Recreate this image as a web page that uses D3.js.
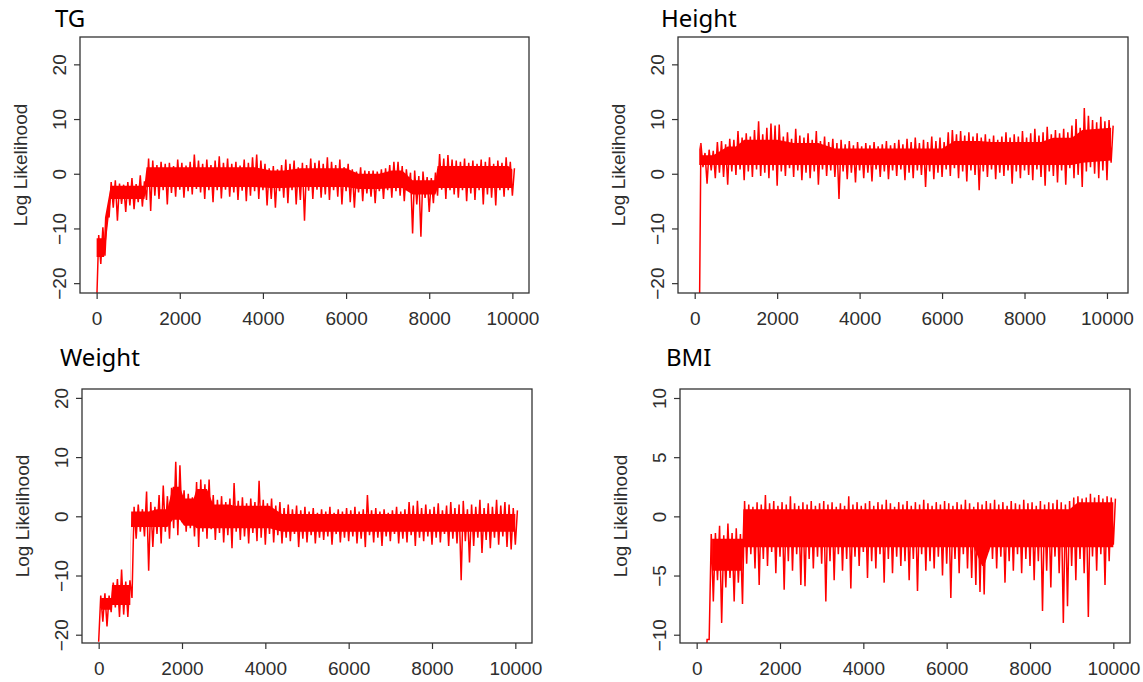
<!DOCTYPE html>
<html>
<head>
<meta charset="utf-8"/>
<script src="https://d3js.org/d3.v7.min.js"></script>
<style>
	body { margin: 0; background: #fff; }
	.tick text { font-family: "Liberation Sans", Arial, sans-serif; font-size: 19px; fill: #2e2e2e; }
	.tick line { stroke: #333; stroke-width: 1.2; }
	.ylab { font-family: "Liberation Sans", Arial, sans-serif; font-size: 19px; fill: #2e2e2e; }
	.title { font-family: "Noto Sans", sans-serif; font-size: 24px; fill: #000; }
	.box { fill: none; stroke: #333; stroke-width: 1.3; }
	.trace { fill: none; stroke: #ff0000; stroke-width: 1.5; }
	.core { fill: #ff0000; stroke: none; }
</style>
</head>
<body>
<svg id="chart" width="1143" height="682"></svg>
<script>
// extremes: one lo and one hi value per 100 iterations (lo at i*100, hi at i*100+50)
var step = 100;
var titles = ["TG", "Height", "Weight", "BMI"];
var xTicks = [0, 2000, 4000, 6000, 8000, 10000];
var yTicksWide = [-20, -10, 0, 10, 20];
var yTicksBmi = [-10, -5, 0, 5, 10];

var tgLo = [-24,-16.5,-15,-8,-6.2,-8.6,-5.5,-7.0,-5.8,-6.5,-5.2,-6.0,
	-4.8,-6.8,-4.0,-4.6,-3.0,-5.6,-3.5,-4.2,-2.9,-4.4,
	-3.2,-3.8,-2.8,-3.4,-4.6,-3.0,-5.2,-3.0,-4.5,-2.9,
	-4.2,-3.4,-4.8,-3.1,-5.0,-4.0,-3.2,-4.6,-3.0,-5.8,
	-4.6,-6.2,-3.2,-4.4,-5.4,-3.0,-5.6,-4.8,-8.6,-3.1,
	-4.6,-2.9,-4.4,-3.8,-4.8,-3.0,-4.2,-5.6,-3.2,-5.2,
	-6.2,-3.4,-5.0,-3.6,-4.2,-5.4,-3.2,-4.6,-3.0,-4.4,
	-3.2,-4.0,-5.0,-3.0,-10.9,-5.6,-11.5,-4.4,-7.0,-5.4,
	-4.0,-2.9,-4.6,-3.0,-3.8,-4.4,-3.0,-5.0,-3.6,-4.8,
	-3.0,-5.6,-3.8,-4.4,-5.8,-3.0,-4.2,-3.0,-4.0];
var tgHi = [-11.2,-9.8,-7,-1.5,-1.2,-1.8,-2.0,-1.5,-0.8,-1.9,-0.3,-1.4,
	2.8,2.4,1.6,2.2,1.8,2.0,1.4,2.6,2.0,1.5,
	2.2,3.5,2.4,1.8,2.6,1.6,2.4,3.2,2.0,2.8,
	1.8,2.2,1.5,2.6,2.0,3.0,3.5,2.4,1.8,1.0,
	1.4,0.8,1.6,2.6,1.8,2.4,1.2,2.0,1.6,2.8,
	2.0,2.4,1.8,3.0,2.2,1.6,2.6,1.2,1.8,0.8,
	0.4,1.2,0.6,0.5,0.6,0.4,0.8,1.0,1.6,2.2,
	2.2,1.4,0.8,0.2,0.6,-0.4,0.4,-0.6,-0.8,0.2,
	3.6,2.8,3.4,2.6,2.4,2.2,2.8,2.0,2.4,1.8,
	2.6,2.2,3.0,1.8,2.4,2.0,3.0,2.2,1.0];

var heightLo = [-40,-40,1.2,-1.8,0.6,-0.8,0.2,-0.6,-2.0,0.4,-0.2,0.8,
	-1.2,0.4,-0.6,0.8,-0.4,0.2,-0.8,0.6,-2.2,0.4,
	-0.4,1.0,-0.6,0.6,-1.2,0.2,-0.8,0.4,-2.0,0.8,
	-0.4,0.6,-0.6,-4.6,0.4,-1.0,0.2,-1.6,0.6,-0.8,
	0.2,-1.4,0.8,-0.6,0.4,-1.0,0.6,-0.4,0.8,-1.2,
	0.2,-0.8,0.6,-0.2,-2.4,0.4,-1.0,0.2,-0.6,0.8,
	-0.4,1.0,-0.8,0.4,-1.4,0.6,-0.2,-3.0,0.4,-0.6,
	0.8,-1.0,0.2,-0.4,0.6,-1.8,0.4,-0.8,0.6,-0.2,
	-1.2,0.8,-0.6,-2.2,0.4,-0.4,-1.6,0.6,-2.0,1.0,
	-0.8,-0.2,-2.4,0.4,1.2,0.0,-0.8,0.6,-1.2,2.0];
var heightHi = [-40,5.6,3.8,4.4,4.2,5.8,6.0,5.4,6.4,6.2,7.8,6.6,
	7.4,6.8,8.0,9.6,7.2,8.4,9.2,8.8,9.0,6.8,
	7.6,6.4,8.2,7.0,6.6,7.4,6.2,7.8,6.0,6.8,
	5.8,6.4,5.6,6.2,5.4,6.0,5.2,5.8,5.0,5.6,
	5.2,5.8,5.0,5.4,6.0,5.2,5.6,6.2,5.4,6.4,
	5.8,6.6,5.6,6.2,5.8,6.8,6.0,6.6,5.8,7.6,
	8.0,7.2,7.8,7.0,7.6,6.8,7.4,6.6,7.2,6.4,
	7.0,6.2,6.8,7.6,6.6,7.2,6.8,7.8,6.6,7.4,
	8.2,7.0,7.6,8.6,7.2,8.0,7.4,8.2,7.6,8.8,
	10.0,8.4,12.0,10.6,9.8,9.4,10.4,9.6,9.8,8.8];

var weightLo = [-21.2,-17.8,-18.6,-16.2,-15.4,-17.0,-16.6,-17.0,-13.8,-3.8,-2.6,-3.4,
	-9.2,-5.2,-3.0,-4.6,-2.6,-3.8,-2.0,-3.2,-1.0,-2.6,
	-2.0,-3.4,-5.2,-2.6,-3.8,-2.2,-4.0,-2.8,-4.4,-3.2,
	-5.4,-2.6,-4.0,-3.4,-4.6,-2.8,-4.2,-3.6,-4.8,-3.0,
	-4.4,-3.2,-4.6,-3.6,-4.2,-3.0,-5.2,-3.8,-4.4,-3.2,
	-4.6,-3.6,-4.0,-3.4,-4.8,-3.0,-4.4,-3.6,-4.2,-3.4,
	-4.6,-3.8,-5.2,-3.2,-4.4,-3.6,-5.0,-3.4,-4.2,-3.0,
	-4.6,-3.8,-4.4,-3.2,-5.0,-3.6,-4.2,-3.4,-4.8,-3.6,
	-4.4,-3.0,-5.0,-3.8,-4.6,-10.8,-4.2,-7.8,-5.0,-3.6,
	-6.2,-4.0,-5.4,-3.6,-4.8,-3.4,-5.2,-5.6,-4.8];
var weightHi = [-13.4,-13.0,-13.4,-11.2,-10.6,-9.0,-11.0,-10.8,1.6,2.0,1.2,4.2,
	2.4,1.6,3.6,5.2,3.4,4.8,9.2,8.6,4.4,3.8,
	3.2,5.8,6.2,5.4,6.2,3.6,2.8,3.4,2.4,3.0,
	5.6,2.6,3.2,2.2,3.0,2.4,6.0,2.8,2.2,3.0,
	1.8,2.4,1.4,2.0,1.2,1.8,1.0,1.6,0.8,1.4,
	0.6,1.2,0.8,1.6,0.6,1.2,0.8,1.4,1.0,1.6,
	0.8,1.2,3.6,1.0,1.4,0.8,1.2,0.6,1.0,1.6,
	0.8,1.2,2.4,1.8,2.6,1.4,2.0,1.2,1.6,2.2,
	1.0,1.8,2.4,1.4,2.0,2.6,1.2,2.0,1.6,2.8,
	1.4,2.2,1.6,2.8,1.8,2.4,2.0,1.4,1.0];

var bmiLo = [-15,-15,-15,-10.4,-7.2,-5.4,-9.0,-6.0,-5.2,-7.2,-5.6,-7.4,
	-4.0,-3.2,-4.4,-5.8,-3.6,-4.2,-3.0,-4.8,-3.4,-6.2,
	-3.8,-4.6,-3.2,-5.8,-5.9,-3.6,-4.4,-3.4,-4.0,-7.2,
	-3.8,-5.4,-3.2,-4.6,-3.6,-6.1,-3.4,-4.2,-3.0,-5.2,
	-3.8,-4.4,-3.2,-5.6,-3.6,-4.8,-3.4,-4.2,-3.8,-5.4,
	-3.6,-6.3,-3.2,-4.6,-3.8,-4.4,-3.4,-5.0,-4.0,-6.9,
	-3.6,-4.8,-3.2,-4.4,-5.2,-5.8,-6.4,-6.6,-3.0,-3.6,
	-4.4,-3.4,-5.6,-3.8,-4.6,-3.2,-4.8,-3.6,-4.2,-5.4,
	-3.8,-8.0,-4.6,-6.0,-3.4,-4.8,-9.0,-7.6,-4.2,-5.4,
	-3.6,-4.8,-8.5,-3.4,-4.6,-3.2,-5.8,-3.8,-2.4];
var bmiHi = [-15,-15,-10.4,-1.5,-1.4,-0.8,-1.6,-0.6,-1.4,-1.0,-1.5,1.3,
	1.0,0.8,1.2,1.0,1.8,1.1,1.3,0.9,1.2,1.0,
	1.7,1.1,0.9,1.2,1.0,1.3,0.9,1.1,1.3,1.0,
	1.2,0.8,1.1,0.9,1.7,1.0,1.2,0.9,1.1,1.3,
	0.9,1.2,1.0,1.4,1.1,0.8,1.2,1.0,1.3,0.9,
	1.2,1.0,1.4,1.1,0.9,1.2,1.0,1.3,1.1,0.9,
	1.2,1.0,1.4,1.1,0.8,1.2,1.0,1.3,1.1,1.4,
	1.0,1.2,0.9,1.3,1.1,1.0,1.4,1.1,1.2,0.9,
	1.3,1.0,1.2,1.1,1.4,1.2,1.0,1.3,1.6,1.7,
	1.5,1.6,1.9,1.6,1.8,1.5,1.7,1.6,1.5];

// dense core band of each trace: iteration, top, bottom
var tgCoreIter = [0,180,200,340,1150,1200,3800,4200,4500,4900,6000,6300,6800,7100,7350,7600,8150,8200,9900,10000];
var tgCoreTop  = [-11.8,-11.8,-8,-2.2,-2.2,1.2,1.2,0.6,0.6,1.0,1.0,0.0,0.0,0.6,0.6,-1.2,-1.2,1.4,1.4,0.8];
var tgCoreBot  = [-15.2,-15.2,-14,-4.6,-4.6,-2.4,-2.4,-2.6,-2.6,-2.4,-2.4,-2.8,-2.8,-2.6,-2.6,-3.8,-3.8,-2.6,-2.6,-2.6];

var heightCoreIter = [110,150,450,800,1000,1200,2000,2400,3000,3400,6000,6300,6900,7200,8400,8700,9150,9400,10100];
var heightCoreTop  = [5.4,3.4,3.4,5.0,5.0,6.2,6.2,5.6,5.6,4.6,4.6,6.0,6.0,5.8,5.8,6.6,6.6,8.0,8.4];
var heightCoreBot  = [1.6,1.6,1.6,1.6,1.6,1.6,1.6,1.6,1.6,1.6,1.6,1.6,1.6,1.6,1.6,1.6,1.6,2.0,2.4];

var weightCoreIter = [60,300,320,760,780,1200,1400,1650,1780,1950,2050,2280,2350,2600,2750,3150,3250,4100,4400,10000];
var weightCoreTop  = [-13.8,-13.8,-11.6,-11.6,0.8,0.8,1.2,1.2,5.0,5.0,3.0,3.0,4.6,4.6,2.0,2.0,1.8,1.8,0.4,0.4];
var weightCoreBot  = [-15.8,-15.8,-15.0,-15.0,-1.8,-1.8,-1.8,-1.8,-0.6,-0.6,-1.6,-1.6,-2.0,-2.0,-2.0,-2.0,-2.0,-2.0,-2.6,-2.6];

var bmiCoreIter = [370,1100,1120,6650,6850,6900,7050,8950,9150,10000];
var bmiCoreTop  = [-1.9,-1.9,0.6,0.6,0.6,0.6,0.6,0.6,1.2,1.2];
var bmiCoreBot  = [-4.6,-4.6,-2.6,-2.6,-4.2,-4.2,-2.6,-2.6,-2.6,-2.6];

var los = [tgLo, heightLo, weightLo, bmiLo];
var his = [tgHi, heightHi, weightHi, bmiHi];
var coreIters = [tgCoreIter, heightCoreIter, weightCoreIter, bmiCoreIter];
var coreTops = [tgCoreTop, heightCoreTop, weightCoreTop, bmiCoreTop];
var coreBots = [tgCoreBot, heightCoreBot, weightCoreBot, bmiCoreBot];
var yTickSets = [yTicksWide, yTicksWide, yTicksWide, yTicksBmi];

// panel frames in page pixels
var layout = [
	{left: 80, right: 529, top: 37, bottom: 293, xDom: [-400, 10400], yDom: [-21.8, 25.0], tx: 55, ty: 27},
	{left: 678, right: 1128, top: 37, bottom: 293, xDom: [-405, 10510], yDom: [-21.8, 25.0], tx: 661, ty: 27},
	{left: 82, right: 532, top: 389, bottom: 643, xDom: [-400, 10400], yDom: [-21.4, 21.5], tx: 60, ty: 366},
	{left: 680, right: 1130, top: 389, bottom: 643, xDom: [-400, 10400], yDom: [-10.7, 10.76], tx: 666, ty: 366}
];

var svg = d3.select('#chart');

layout.forEach(function(L, k) {
	var x = d3.scaleLinear().domain(L.xDom).range([L.left, L.right]);
	var y = d3.scaleLinear().domain(L.yDom).range([L.bottom, L.top]);
	var g = svg.append('g');

	var pts = [];
	los[k].forEach(function(v, i) {
		pts.push([i * step, v]);
		pts.push([i * step + step / 2, his[k][i]]);
	});
	var core = coreIters[k].map(function(it, i) {
		return [it, coreTops[k][i], coreBots[k][i]];
	});

	svg.append('clipPath').attr('id', 'clip' + k)
		.append('rect')
		.attr('x', L.left).attr('y', L.top)
		.attr('width', L.right - L.left).attr('height', L.bottom - L.top);

	var area = d3.area()
		.x(function(d) { return x(d[0]); })
		.y0(function(d) { return y(d[2]); })
		.y1(function(d) { return y(d[1]); });

	var line = d3.line()
		.x(function(d) { return x(d[0]); })
		.y(function(d) { return y(d[1]); });

	g.append('path')
		.attr('class', 'core')
		.attr('clip-path', 'url(#clip' + k + ')')
		.attr('d', area(core));

	g.append('path')
		.attr('class', 'trace')
		.attr('clip-path', 'url(#clip' + k + ')')
		.attr('d', line(pts));

	g.append('rect')
		.attr('class', 'box')
		.attr('x', L.left).attr('y', L.top)
		.attr('width', L.right - L.left).attr('height', L.bottom - L.top);

	g.append('g')
		.attr('transform', `translate(0,${L.bottom})`)
		.call(d3.axisBottom(x).tickValues(xTicks).tickSize(6).tickPadding(13).tickFormat(d3.format('d')))
		.call(function(a) { a.select('.domain').remove(); });

	g.append('g')
		.attr('transform', `translate(${L.left},0)`)
		.call(d3.axisLeft(y).tickValues(yTickSets[k]).tickSize(6).tickFormat(d3.format('d')))
		.call(function(a) {
			a.select('.domain').remove();
			a.selectAll('.tick text')
				.attr('x', 0).attr('y', -14).attr('dy', null)
				.attr('text-anchor', 'middle')
				.attr('transform', 'rotate(-90)');
		});

	g.append('text')
		.attr('class', 'ylab')
		.attr('text-anchor', 'middle')
		.attr('transform', `translate(${L.left - 53},${(L.top + L.bottom) / 2}) rotate(-90)`)
		.text('Log Likelihood');

	g.append('text')
		.attr('class', 'title')
		.attr('x', L.tx).attr('y', L.ty)
		.text(titles[k]);
});
</script>
</body>
</html>
